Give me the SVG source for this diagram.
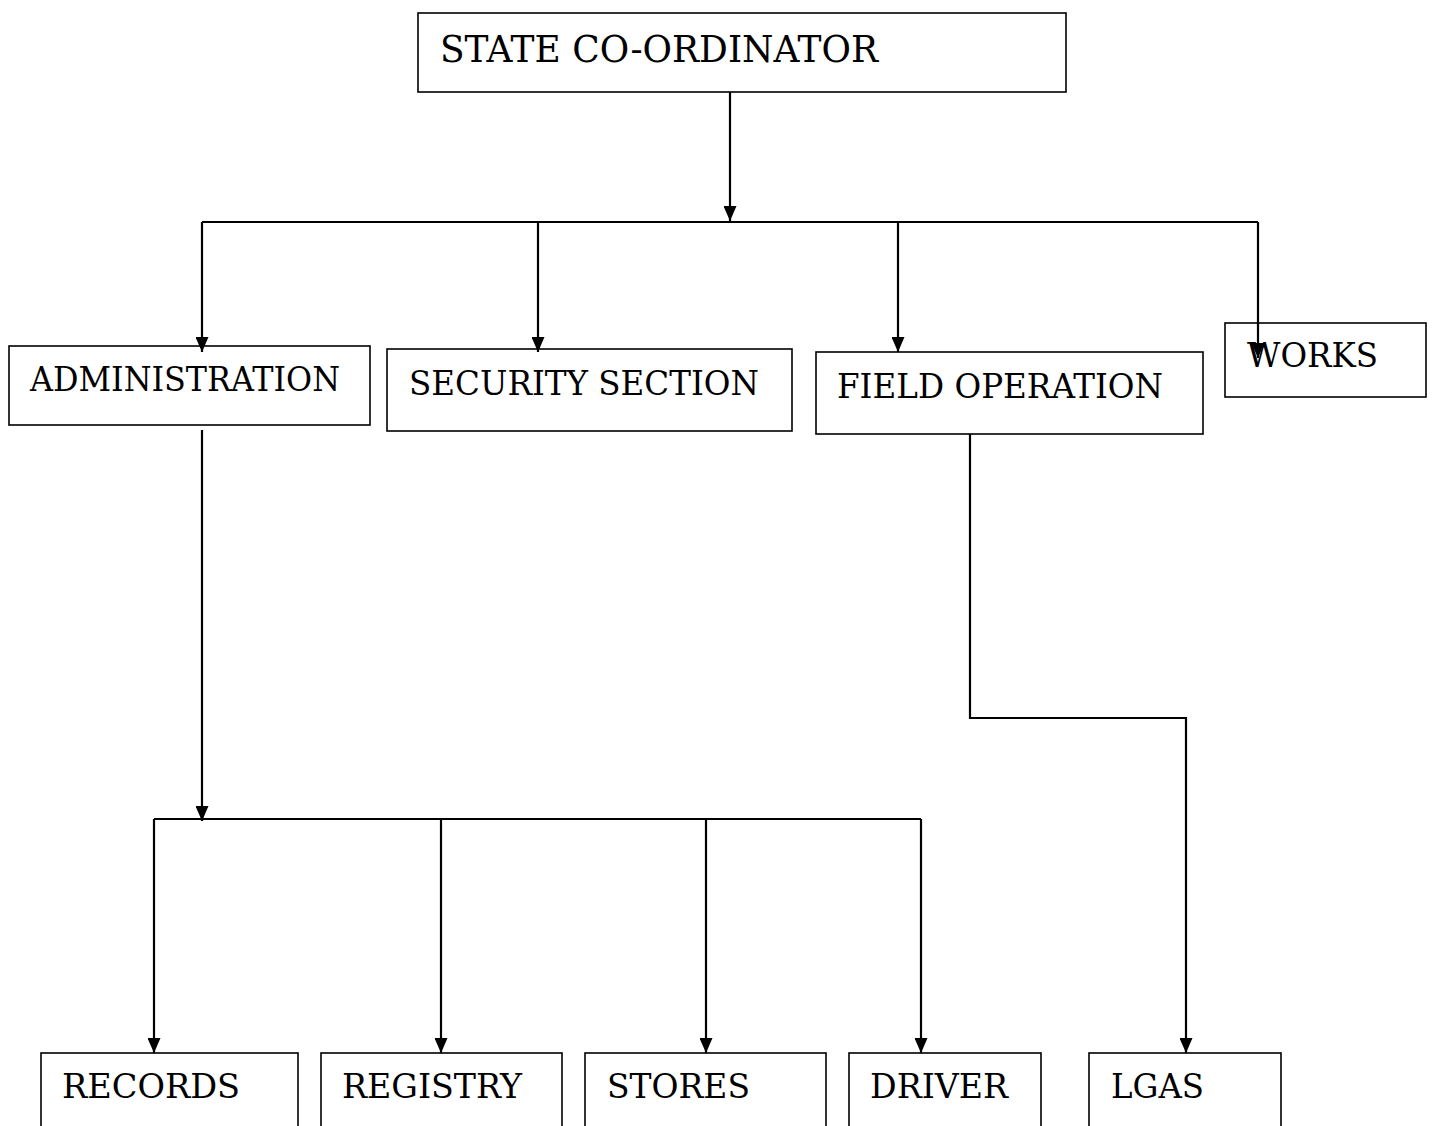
<svg xmlns="http://www.w3.org/2000/svg" width="1432" height="1126" viewBox="0 0 1432 1126">
<style>
.box{fill:#fff;stroke:#000;stroke-width:1.6}
.lbl{font-family:"DejaVu Serif","Liberation Serif",serif;font-size:33px;fill:#000}
.big{font-size:37px}
.con{fill:none;stroke:#000;stroke-width:2.2}
</style>
<defs>
<marker id="ah" markerWidth="15" markerHeight="13" refX="15" refY="6.5" orient="auto" markerUnits="userSpaceOnUse" viewBox="0 0 15 13">
<path d="M0,0 L15,6.5 L0,13 Z" fill="#000"/>
</marker>
</defs>
<rect width="1432" height="1126" fill="#fff"/>
<g id="state">
<rect class="box" x="418" y="13" width="648" height="79"/>
<text class="lbl big" x="440" y="62" textLength="438" lengthAdjust="spacingAndGlyphs">STATE CO-ORDINATOR</text>
</g>
<g id="admin">
<rect class="box" x="9" y="346" width="361" height="79"/>
<text class="lbl" x="30" y="391" textLength="310" lengthAdjust="spacingAndGlyphs">ADMINISTRATION</text>
</g>
<g id="security">
<rect class="box" x="387" y="349" width="405" height="82"/>
<text class="lbl" x="409" y="395" textLength="350" lengthAdjust="spacingAndGlyphs">SECURITY SECTION</text>
</g>
<g id="field">
<rect class="box" x="816" y="352" width="387" height="82"/>
<text class="lbl" x="837" y="398" textLength="326" lengthAdjust="spacingAndGlyphs">FIELD OPERATION</text>
</g>
<g id="works">
<rect class="box" x="1225" y="323" width="201" height="74"/>
<text class="lbl" x="1247" y="367" textLength="131" lengthAdjust="spacingAndGlyphs">WORKS</text>
</g>
<g id="records">
<rect class="box" x="41" y="1053" width="257" height="90"/>
<text class="lbl" x="62" y="1098" textLength="178" lengthAdjust="spacingAndGlyphs">RECORDS</text>
</g>
<g id="registry">
<rect class="box" x="321" y="1053" width="241" height="90"/>
<text class="lbl" x="342" y="1098" textLength="180" lengthAdjust="spacingAndGlyphs">REGISTRY</text>
</g>
<g id="stores">
<rect class="box" x="585" y="1053" width="241" height="90"/>
<text class="lbl" x="607" y="1098" textLength="143" lengthAdjust="spacingAndGlyphs">STORES</text>
</g>
<g id="driver">
<rect class="box" x="849" y="1053" width="192" height="90"/>
<text class="lbl" x="870" y="1098" textLength="138" lengthAdjust="spacingAndGlyphs">DRIVER</text>
</g>
<g id="lgas">
<rect class="box" x="1089" y="1053" width="192" height="90"/>
<text class="lbl" x="1111" y="1098" textLength="93" lengthAdjust="spacingAndGlyphs">LGAS</text>
</g>
<g id="connectors">
<path class="con" d="M730,92 V221" marker-end="url(#ah)"/>
<path class="con" d="M202,222 H1258"/>
<path class="con" d="M202,222 V352" marker-end="url(#ah)"/>
<path class="con" d="M538,222 V352" marker-end="url(#ah)"/>
<path class="con" d="M898,222 V352" marker-end="url(#ah)"/>
<path class="con" d="M1258,222 V358" marker-end="url(#ah)"/>
<path class="con" d="M202,430 V821" marker-end="url(#ah)"/>
<path class="con" d="M154,819 H921"/>
<path class="con" d="M154,819 V1053" marker-end="url(#ah)"/>
<path class="con" d="M441,819 V1053" marker-end="url(#ah)"/>
<path class="con" d="M706,819 V1053" marker-end="url(#ah)"/>
<path class="con" d="M921,819 V1053" marker-end="url(#ah)"/>
<path class="con" d="M970,434 V718 H1186 V1053" marker-end="url(#ah)"/>
</g>
</svg>
